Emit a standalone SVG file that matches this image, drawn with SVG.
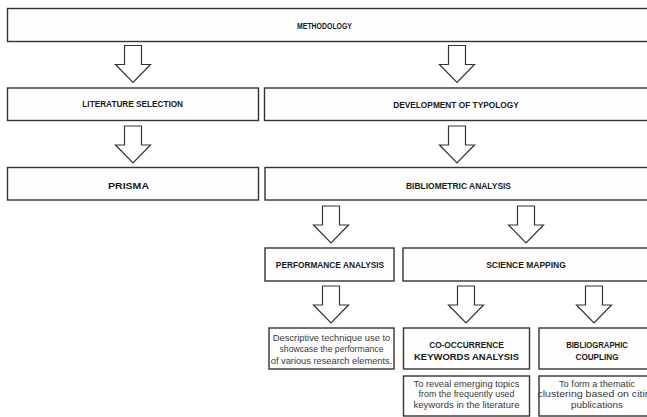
<svg xmlns="http://www.w3.org/2000/svg" width="647" height="417" viewBox="0 0 647 417">
<style>
.box{fill:#fefefe;stroke:#333;stroke-width:1.4}
.arr{fill:#fff;stroke:#333;stroke-width:1.2;stroke-linejoin:miter}
.h{font-family:"Liberation Sans",Arial,sans-serif;font-weight:bold;font-size:8.4px;fill:#1a1a1a;text-anchor:middle}
.h2{font-family:"Liberation Sans",Arial,sans-serif;font-weight:bold;font-size:9.6px;fill:#1a1a1a;text-anchor:middle}
.t{font-family:"Liberation Sans",Arial,sans-serif;font-size:9.4px;fill:#3a3a3a;text-anchor:middle}
.s{font-family:"Liberation Sans",Arial,sans-serif;font-size:8.7px;fill:#3a3a3a;text-anchor:middle}
</style>
<defs>
<path id="arrow" class="arr" d="M-8.5,0 H8.5 V19 H17.5 L0,37 L-17.5,19 H-8.5 Z"/>
</defs>
<rect width="647" height="417" fill="#fff"/>
<g id="connectors">
<use href="#arrow" x="133" y="45.5"/>
<use href="#arrow" x="457" y="45.5"/>
<use href="#arrow" x="133" y="126"/>
<use href="#arrow" x="457" y="126"/>
<use href="#arrow" x="331" y="206"/>
<use href="#arrow" x="526" y="206"/>
<use href="#arrow" x="331" y="286"/>
<use href="#arrow" x="466" y="286"/>
<use href="#arrow" x="594" y="286"/>
</g>
<g id="methodology">
<rect class="box" x="7.5" y="8.5" width="645" height="33"/>
<text class="h" x="324.5" y="28.5" textLength="55" lengthAdjust="spacingAndGlyphs">METHODOLOGY</text>
</g>
<g id="literature-selection">
<rect class="box" x="7.5" y="88" width="251" height="32.5"/>
<text class="h" x="132.7" y="107.3" textLength="100.7" lengthAdjust="spacingAndGlyphs">LITERATURE SELECTION</text>
</g>
<g id="development-of-typology">
<rect class="box" x="264.5" y="88" width="390" height="32.5"/>
<text class="h" x="456" y="107.5" textLength="125.7" lengthAdjust="spacingAndGlyphs">DEVELOPMENT OF TYPOLOGY</text>
</g>
<g id="prisma">
<rect class="box" x="7.5" y="167.5" width="251" height="32.5"/>
<text class="h" x="128.5" y="188.5" textLength="41" lengthAdjust="spacingAndGlyphs">PRISMA</text>
</g>
<g id="bibliometric-analysis">
<rect class="box" x="265" y="167.5" width="390" height="32.5"/>
<text class="h" x="458.5" y="188.5" textLength="105" lengthAdjust="spacingAndGlyphs">BIBLIOMETRIC ANALYSIS</text>
</g>
<g id="performance-analysis">
<rect class="box" x="265" y="248" width="129" height="33"/>
<text class="h" x="330" y="268.3" textLength="108.3" lengthAdjust="spacingAndGlyphs">PERFORMANCE ANALYSIS</text>
</g>
<g id="science-mapping">
<rect class="box" x="403" y="248" width="250" height="33"/>
<text class="h" x="526" y="268.3" textLength="79.7" lengthAdjust="spacingAndGlyphs">SCIENCE MAPPING</text>
</g>
<g id="performance-description">
<rect class="box" x="269" y="328" width="125" height="41"/>
<text class="t" x="331.5" y="340.5" textLength="117.5" lengthAdjust="spacingAndGlyphs">Descriptive technique use to</text>
<text class="t" x="331.5" y="352.3" textLength="104" lengthAdjust="spacingAndGlyphs">showcase the performance</text>
<text class="t" x="331.5" y="364" textLength="121.5" lengthAdjust="spacingAndGlyphs">of various research elements.</text>
</g>
<g id="co-occurrence">
<rect class="box" x="403.5" y="328" width="126" height="41"/>
<text class="h2" x="466.5" y="347.7" textLength="74.7" lengthAdjust="spacingAndGlyphs">CO-OCCURRENCE</text>
<text class="h2" x="466.5" y="360" textLength="105" lengthAdjust="spacingAndGlyphs">KEYWORDS ANALYSIS</text>
</g>
<g id="bibliographic-coupling">
<rect class="box" x="539" y="328" width="115" height="41"/>
<text class="h2" x="597" y="347.7" textLength="61.7" lengthAdjust="spacingAndGlyphs">BIBLIOGRAPHIC</text>
<text class="h2" x="597" y="360" textLength="43" lengthAdjust="spacingAndGlyphs">COUPLING</text>
</g>
<g id="co-occurrence-description">
<rect class="box" x="403.5" y="376" width="126" height="40"/>
<text class="s" x="466.5" y="387" textLength="106" lengthAdjust="spacingAndGlyphs">To reveal emerging topics</text>
<text class="s" x="466.5" y="397.3" textLength="96" lengthAdjust="spacingAndGlyphs">from the frequently used</text>
<text class="s" x="466.5" y="407.6" textLength="106" lengthAdjust="spacingAndGlyphs">keywords in the literature</text>
</g>
<g id="coupling-description">
<rect class="box" x="539" y="376" width="115" height="40"/>
<text class="s" x="597" y="387" textLength="76" lengthAdjust="spacingAndGlyphs">To form a thematic</text>
<text class="s" x="597" y="397.3" textLength="119" lengthAdjust="spacingAndGlyphs">clustering based on citing</text>
<text class="s" x="597" y="407.6" textLength="52" lengthAdjust="spacingAndGlyphs">publications</text>
</g>
</svg>
